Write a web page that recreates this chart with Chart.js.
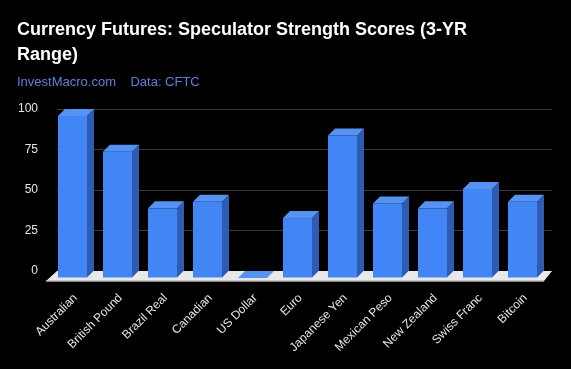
<!DOCTYPE html>
<html>
<head>
<meta charset="utf-8">
<script src="https://cdn.jsdelivr.net/npm/chart.js@4.4.0/dist/chart.umd.min.js"></script>
<style>
html, body { margin: 0; padding: 0; background: #000; }
canvas { display: block; }
</style>
</head>
<body>
<canvas id="grafica-monedas" width="571" height="369"></canvas>
<script>
// -------------------------------------------------------------------------------------------------------------------------
// DATA
// -------------------------------------------------------------------------------------------------------------------------
var monedas = ['Australian', 'British Pound', 'Brazil Real', 'Canadian', 'US Dollar', 'Euro',
    'Japanese Yen', 'Mexican Peso', 'New Zealand', 'Swiss Franc', 'Bitcoin'];
var puntajes = [100, 78, 43, 47, 0, 37, 88, 46, 43, 55, 47];
var ticksY = [0, 25, 50, 75, 100];

var titulo = ['Currency Futures: Speculator Strength Scores (3-YR', 'Range)'];
var subtitulo = 'InvestMacro.com    Data: CFTC';

// -------------------------------------------------------------------------------------------------------------------------
// 3D LOOK: the native bars are the back plane, the front face is shifted down-left
// -------------------------------------------------------------------------------------------------------------------------
var prof = 7; // profundidad de la barra en px

var barras3d = {
    id: 'barras3d',
    afterDatasetsDraw: function(chart) {
        var ctx = chart.ctx;
        var area = chart.chartArea;
        ctx.save();

        // piso blanco
        ctx.fillStyle = '#e8e8e8';
        ctx.beginPath();
        ctx.moveTo(area.left, area.bottom);
        ctx.lineTo(area.right, area.bottom);
        ctx.lineTo(area.right - 8, area.bottom + 10);
        ctx.lineTo(area.left - 11, area.bottom + 10);
        ctx.closePath();
        ctx.fill();
        ctx.strokeStyle = '#b8b8b8';
        ctx.lineWidth = 1.5;
        ctx.beginPath();
        ctx.moveTo(area.left - 11, area.bottom + 10);
        ctx.lineTo(area.right - 8, area.bottom + 10);
        ctx.stroke();

        var meta = chart.getDatasetMeta(0);
        meta.data.forEach(function(bar) {
            var p = bar.getProps(['x', 'y', 'base', 'width'], true);
            var izq = p.x - p.width / 2;
            var der = p.x + p.width / 2;
            var arriba = p.y;
            var abajo = p.base;

            // cara lateral
            ctx.fillStyle = '#2d5cb2';
            ctx.beginPath();
            ctx.moveTo(der - prof, arriba + prof);
            ctx.lineTo(der, arriba);
            ctx.lineTo(der, abajo);
            ctx.lineTo(der - prof, abajo + prof);
            ctx.closePath();
            ctx.fill();

            // cara superior
            ctx.fillStyle = '#5592f2';
            ctx.beginPath();
            ctx.moveTo(izq - prof, arriba + prof);
            ctx.lineTo(der - prof, arriba + prof);
            ctx.lineTo(der, arriba);
            ctx.lineTo(izq, arriba);
            ctx.closePath();
            ctx.fill();

            // cara frontal
            ctx.fillStyle = '#4285f4';
            ctx.fillRect(izq - prof, arriba + prof, p.width, abajo - arriba);
        });
        ctx.restore();
    }
};

// -------------------------------------------------------------------------------------------------------------------------
// CHART
// -------------------------------------------------------------------------------------------------------------------------
var datos = {
    labels: monedas,
    datasets: [{
        label: 'Score',
        data: puntajes,
        backgroundColor: 'rgba(0, 0, 0, 0)',
        borderWidth: 0,
        categoryPercentage: 1,
        barPercentage: 29 / 45
    }]
};

var opciones = {
    responsive: false,
    animation: false,
    events: [],
    layout: {
        padding: { left: 17, right: 19, top: 0, bottom: 0 }
    },
    scales: {
        x: {
            grid: { display: false },
            border: { display: false },
            ticks: {
                color: '#e6e6e6',
                font: { family: 'Arial', size: 12 },
                maxRotation: 45,
                minRotation: 45,
                autoSkip: false,
                padding: 12,
                labelOffset: -4
            },
            afterFit: function(scale) { scale.height = 98; }
        },
        y: {
            min: 0,
            max: 100,
            afterBuildTicks: function(scale) {
                scale.ticks = ticksY.map(function(v) { return { value: v }; });
            },
            grid: { color: '#3a3a3a', drawTicks: false },
            border: { display: false },
            ticks: {
                color: '#e6e6e6',
                font: { family: 'Arial', size: 12 },
                padding: 19
            },
            afterFit: function(scale) { scale.width = 40; }
        }
    },
    plugins: {
        legend: { display: false },
        tooltip: { enabled: false },
        title: {
            display: true,
            text: titulo,
            align: 'start',
            color: '#ffffff',
            font: { family: 'Arial', size: 18, weight: 'bold', lineHeight: 25 / 18 },
            padding: { top: 18, bottom: 7 }
        },
        subtitle: {
            display: true,
            text: subtitulo,
            align: 'start',
            color: '#5b80db',
            font: { family: 'Arial', size: 13, lineHeight: 1.2 },
            padding: { top: 0, bottom: 18.4 }
        }
    }
};

var ctx = document.getElementById('grafica-monedas').getContext('2d');
var grafica = new Chart(ctx, {
    type: 'bar',
    data: datos,
    options: opciones,
    plugins: [barras3d]
});
</script>
</body>
</html>
